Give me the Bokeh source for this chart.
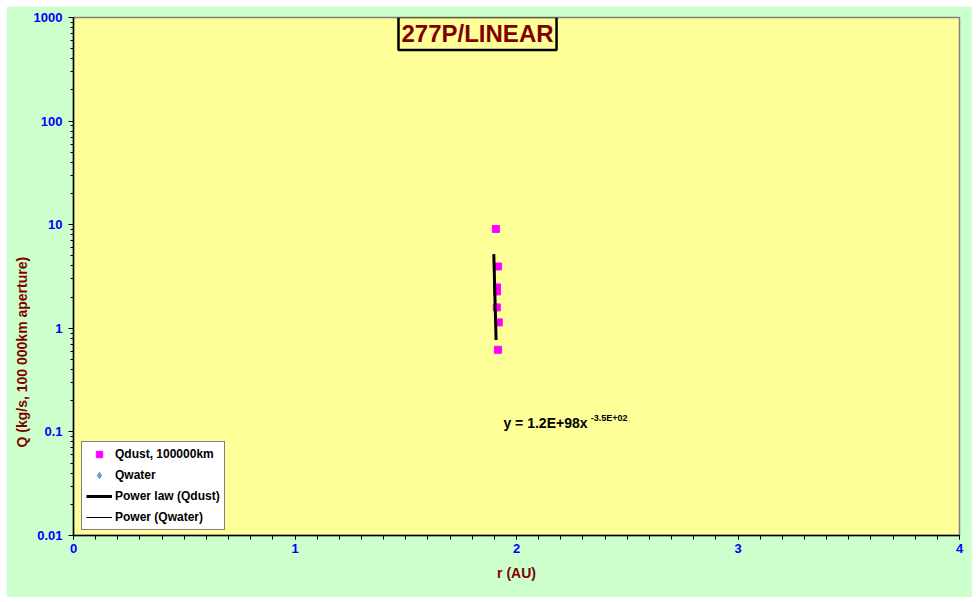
import numpy as np
from bokeh.plotting import figure
from bokeh.models import (Label, Legend, LegendItem, FixedTicker,
                          SingleIntervalTicker, Title)
from bokeh.embed import file_html
from bokeh.resources import INLINE

# --- data -------------------------------------------------------------
r_dust = [1.907, 1.916, 1.912, 1.912, 1.911, 1.920, 1.916]   # AU
q_dust = [9.1, 3.95, 2.48, 2.27, 1.59, 1.14, 0.62]           # kg/s

# no water production values for this comet
r_water = []
q_water = []

# power-law fit Q = A * r^B (as printed on the chart)
fit_A = 1.2e98
fit_B = -3.5e2
fit_q_span = [5.2, 0.77]

y_ticks = [0.01, 0.1, 1, 10, 100, 1000]
y_tick_labels = ["0.01", "0.1", "1", "10", "100", "1000"]

FONT = "Liberation Sans"
DARK_RED = "#800000"
TICK_BLUE = "#0000FF"

p = figure(width=966, height=591, x_range=(0, 4), y_range=(0.01, 1000),
           y_axis_type="log", output_backend="svg", toolbar_location=None,
           min_border_left=67, min_border_right=13,
           min_border_top=11, min_border_bottom=62)
p.margin = (6, 0, 0, 6)
p.background_fill_color = "#FFFF99"
p.border_fill_color = "#CCFFCC"
p.outline_line_color = "#808080"
p.outline_line_width = 1.5
p.grid.visible = False

# axes
p.xaxis.ticker = SingleIntervalTicker(interval=1, num_minor_ticks=10)
minor_y = [m * 10.0 ** e for e in range(-2, 3) for m in range(2, 10)]
p.yaxis.ticker = FixedTicker(ticks=y_ticks, minor_ticks=minor_y)
p.yaxis.major_label_overrides = {t: s for t, s in zip(y_ticks, y_tick_labels)}

for ax in (p.xaxis[0], p.yaxis[0]):
    ax.axis_line_color = "black"
    ax.axis_line_width = 1.5
    ax.major_tick_line_color = "black"
    ax.minor_tick_line_color = "black"
    ax.major_tick_in = 0
    ax.minor_tick_in = 0
    ax.major_label_text_color = TICK_BLUE
    ax.major_label_text_font = FONT
    ax.major_label_text_font_style = "bold"
    ax.major_label_text_font_size = "13px"
    ax.axis_label_text_color = DARK_RED
    ax.axis_label_text_font = FONT
    ax.axis_label_text_font_style = "bold"
    ax.axis_label_text_font_size = "14px"

p.xaxis.major_tick_out = 4
p.xaxis.minor_tick_out = 4
p.xaxis.major_label_standoff = 4
p.xaxis.axis_label = "r (AU)"
p.xaxis.axis_label_standoff = 9

p.yaxis.major_tick_out = 5
p.yaxis.minor_tick_out = 3
p.yaxis.major_label_standoff = 6

# y-axis title as a side title, anchored near the bottom of the frame
p.add_layout(Title(text="Q (kg/s, 100 000km aperture)", align="left",
                   offset=88, standoff=2, text_font=FONT,
                   text_font_style="bold", text_font_size="14px",
                   text_color=DARK_RED), "left")

# dust measurements
dust = p.scatter(r_dust, q_dust, marker="square", size=7,
                 fill_color="#FF00FF", line_color="#FF00FF")
water = p.scatter(r_water, q_water, marker="diamond", size=9,
                  fill_color="#6699CC", line_color="#6699CC")

# power-law trend line drawn from the fitted equation
q_line = np.geomspace(fit_q_span[0], fit_q_span[1], 30)
r_line = (q_line / fit_A) ** (1.0 / fit_B)
dust_fit = p.line(r_line, q_line, line_color="black", line_width=3)
water_fit = p.line([], [], line_color="black", line_width=1)

# nan-only renderers so the legend can draw swatches for the empty series
water_key = p.scatter([np.nan], [np.nan], marker="diamond", size=9,
                      fill_color="#6699CC", line_color="#6699CC")
water_fit_key = p.line([np.nan, np.nan], [np.nan, np.nan],
                       line_color="black", line_width=1)

legend = Legend(items=[
    LegendItem(label="Qdust, 100000km", renderers=[dust]),
    LegendItem(label="Qwater", renderers=[water, water_key]),
    LegendItem(label="Power law (Qdust)", renderers=[dust_fit]),
    LegendItem(label="Power (Qwater)", renderers=[water_fit, water_fit_key]),
], location=(8, 5))
legend.background_fill_color = "white"
legend.background_fill_alpha = 1
legend.border_line_color = "black"
legend.border_line_width = 1.5
legend.label_text_font = FONT
legend.label_text_font_style = "bold"
legend.label_text_font_size = "12px"
legend.label_text_color = "black"
legend.glyph_width = 26
legend.glyph_height = 16
legend.label_height = 16
legend.label_standoff = 3
legend.spacing = 5
legend.padding = 4
legend.margin = 0
p.add_layout(legend)

# chart title box
p.add_layout(Label(x=1.824, y=700, text="277P/LINEAR", text_align="center",
                   text_baseline="middle", text_font=FONT,
                   text_font_style="bold", text_font_size="24px",
                   text_color=DARK_RED, background_fill_color="#FFFF99",
                   border_line_color="black", border_line_width=2.5,
                   padding=3))

# fit equation with superscript exponent
p.add_layout(Label(x=1.941, y=0.123, text="y = 1.2E+98x",
                   text_align="left", text_baseline="alphabetic",
                   text_font=FONT, text_font_style="bold",
                   text_font_size="14px", text_color="black"))
p.add_layout(Label(x=2.335, y=0.1365, text="-3.5E+02",
                   text_align="left", text_baseline="alphabetic",
                   text_font=FONT, text_font_style="bold",
                   text_font_size="9px", text_color="black"))

open("out.html", "w").write(file_html(p, INLINE))
